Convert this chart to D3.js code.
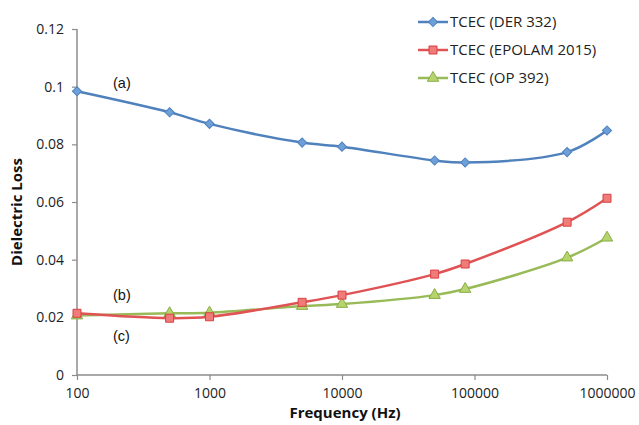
<!DOCTYPE html>
<html>
<head>
<meta charset="utf-8">
<script src="https://cdn.jsdelivr.net/npm/d3@7/dist/d3.min.js"></script>
<style>
  html, body { margin: 0; padding: 0; background: #fff; }
  svg { display: block; }
</style>
</head>
<body>
<svg id="chart" width="639" height="425"></svg>
<script>
// Measurement frequencies (Hz)
const frequencies = [100, 500, 1000, 5000, 10000, 50000, 85000, 500000, 1000000];

// Dielectric loss for each transformer-oil blend
const der332   = [0.0984, 0.0911, 0.0871, 0.0806, 0.0792, 0.0744, 0.0737, 0.0773, 0.0848];
const epolam   = [0.0214, 0.0197, 0.0202, 0.0252, 0.0277, 0.0350, 0.0385, 0.0530, 0.0613];
const op392    = [0.0206, 0.0214, 0.0216, 0.0239, 0.0246, 0.0277, 0.0298, 0.0407, 0.0476];

const seriesNames = ["TCEC (DER 332)", "TCEC (EPOLAM 2015)", "TCEC (OP 392)"];
const yTicks = [0, 0.02, 0.04, 0.06, 0.08, 0.1, 0.12];
const xTicks = [100, 1000, 10000, 100000, 1000000];

const svg = d3.select("#chart");
const plotLeft = 77, plotRight = 607, plotTop = 29, plotBottom = 375;

const x = d3.scaleLog().domain([100, 1000000]).range([plotLeft, plotRight]);
const y = d3.scaleLinear().domain([0, 0.12]).range([plotBottom, plotTop]);

const axisColor = "#8c8c8c";
const tickFont = "'Open Sans', sans-serif";

// Y axis
const yAxis = svg.append("g")
  .attr("transform", `translate(${plotLeft},0)`)
  .call(d3.axisLeft(y).tickValues(yTicks).tickSize(5).tickPadding(8)
        .tickFormat(d => String(+d.toFixed(2))));
// X axis
const xAxis = svg.append("g")
  .attr("transform", `translate(0,${plotBottom})`)
  .call(d3.axisBottom(x).tickValues(xTicks).tickSize(5).tickPadding(8)
        .tickFormat(d3.format("d")));

[yAxis, xAxis].forEach(g => {
  g.select(".domain").attr("stroke", axisColor).attr("stroke-width", 1.5);
  g.selectAll(".tick line").attr("stroke", axisColor).attr("stroke-width", 1.2);
  g.selectAll(".tick text").attr("fill", "#222").style("font-family", tickFont).style("font-size", "14px");
});
yAxis.select(".domain").attr("d", `M0,${plotBottom}V${plotTop}`);
xAxis.select(".domain").attr("d", `M${plotLeft},0H${plotRight}`);

// Axis titles
svg.append("text")
  .attr("transform", `translate(22,${(plotTop + plotBottom) / 2 + 10}) rotate(-90)`)
  .attr("text-anchor", "middle")
  .style("font-family", tickFont).style("font-size", "15px").style("font-weight", "bold")
  .attr("fill", "#111")
  .text("Dielectric Loss");

svg.append("text")
  .attr("x", 345).attr("y", 418)
  .attr("text-anchor", "middle")
  .style("font-family", tickFont).style("font-size", "15px").style("font-weight", "bold")
  .attr("fill", "#111")
  .text("Frequency (Hz)");

// Series styling (diamond = square turned 45°)
const series = [
  { name: seriesNames[0], values: der332, line: "#4f81bd", fill: "#6d9fd8", stroke: "#4f81bd", shape: d3.symbolSquare, size: 42, rot: 45 },
  { name: seriesNames[1], values: epolam, line: "#e05253", fill: "#f07b7b", stroke: "#d8403f", shape: d3.symbolSquare, size: 64, rot: 0 },
  { name: seriesNames[2], values: op392,  line: "#98bb58", fill: "#b6d46c", stroke: "#8aac47", shape: d3.symbolTriangle, size: 56, rot: 0 }
];

const line = d3.line()
  .x((d, i) => x(frequencies[i]))
  .y(d => y(d))
  .curve(d3.curveCatmullRom.alpha(0.5));

// Draw in back-to-front order: green, red, blue
[series[2], series[1], series[0]].forEach(s => {
  const g = svg.append("g");
  g.append("path")
    .attr("d", line(s.values))
    .attr("fill", "none")
    .attr("stroke", s.line)
    .attr("stroke-width", 2.5)
    .attr("stroke-linejoin", "round");
  g.selectAll("path.mark")
    .data(s.values)
    .join("path")
    .attr("class", "mark")
    .attr("transform", (d, i) => `translate(${x(frequencies[i])},${y(d)}) rotate(${s.rot})`)
    .attr("d", d3.symbol().type(s.shape).size(s.size))
    .attr("fill", s.fill)
    .attr("stroke", s.stroke)
    .attr("stroke-width", 1);
});

// Legend
const legendRows = [22, 50, 78];
series.forEach((s, i) => {
  const ly = legendRows[i];
  svg.append("line")
    .attr("x1", 418).attr("x2", 448).attr("y1", ly).attr("y2", ly)
    .attr("stroke", s.line).attr("stroke-width", 2.5);
  svg.append("path")
    .attr("transform", `translate(433,${ly}) rotate(${s.rot})`)
    .attr("d", d3.symbol().type(s.shape).size(s.size))
    .attr("fill", s.fill).attr("stroke", s.stroke).attr("stroke-width", 1);
  svg.append("text")
    .attr("x", 450).attr("y", ly).attr("dy", "0.35em")
    .style("font-family", tickFont).style("font-size", "15px")
    .attr("fill", "#222")
    .text(s.name);
});

// Curve labels
const labelFont = "'Liberation Sans', Arial, sans-serif";
[["(a)", 113, 88], ["(b)", 113, 300], ["(c)", 113, 341]].forEach(([t, lx, ly]) => {
  svg.append("text")
    .attr("x", lx).attr("y", ly)
    .style("font-family", labelFont).style("font-size", "14.5px")
    .attr("fill", "#111")
    .text(t);
});
</script>
</body>
</html>
